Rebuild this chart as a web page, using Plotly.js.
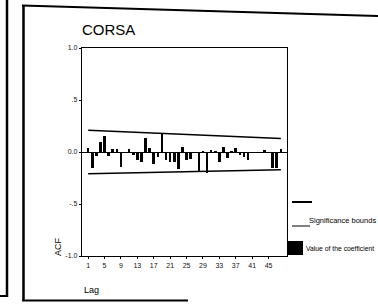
<!DOCTYPE html>
<html>
<head>
<meta charset="utf-8">
<script src="https://cdn.plot.ly/plotly-3.0.1.min.js"></script>
<style>
html,body{margin:0;padding:0;background:#fff;overflow:hidden;}
#wrap{position:relative;width:378px;height:304px;}
#chart{position:absolute;left:0;top:0;width:378px;height:304px;}
#frame{position:absolute;left:0;top:0;width:378px;height:304px;pointer-events:none;}
</style>
</head>
<body>
<div id="wrap">
<div id="chart"></div>
<svg id="frame" width="378" height="304" xmlns="http://www.w3.org/2000/svg">
  <line x1="7" y1="0" x2="7" y2="297" stroke="#000" stroke-width="2.5"/>
  <line x1="0" y1="296" x2="8" y2="296" stroke="#000" stroke-width="2"/>
  <line x1="23.5" y1="5" x2="23.5" y2="301" stroke="#000" stroke-width="2.5"/>
  <line x1="22" y1="5.5" x2="378" y2="16" stroke="#000" stroke-width="2"/>
  <line x1="22" y1="300.5" x2="188" y2="300.5" stroke="#000" stroke-width="2"/>
</svg>
</div>
<script>
// ---- data ----
var lags = [1,2,3,4,5,6,7,8,9,10,11,12,13,14,15,16,17,18,19,20,21,22,23,24,
            25,26,27,28,29,30,31,32,33,34,35,36,37,38,39,40,41,42,43,44,45,46,47,48];
var acfValues = [0.04,-0.15,-0.04,0.10,0.15,-0.04,0.03,0.03,-0.14,0.00,0.03,-0.03,
                 -0.08,-0.10,0.13,0.04,-0.12,-0.05,0.18,-0.08,-0.10,-0.10,-0.16,0.05,
                 -0.08,-0.07,0.00,-0.19,0.01,-0.20,0.02,0.01,-0.10,0.05,-0.06,0.01,
                 0.04,-0.03,-0.05,-0.08,-0.01,0.00,-0.01,0.02,-0.01,-0.15,-0.15,0.03];
var boundLags = [1, 48];
var upperBound = [0.21, 0.13];
var lowerBound = [-0.21, -0.17];
var xTickVals = [1,5,9,13,17,21,25,29,33,37,41,45];
var xTickText = ['1','5','9','13','17','21','25','29','33','37','41','45'];
var yTickVals = [1,0.5,0,-0.5,-1];
var yTickText = ['1.0','.5','0.0','-.5','-1.0'];
var titleText = 'CORSA';
var legendBounds = 'Significance bounds';
var legendCoef = 'Value of the coefficient';

// ---- geometry helpers (pixel -> paper) ----
var L = 82, R = 287, T = 48, B = 256, W = 378, H = 304;
function px(x){ return (x - L) / (R - L); }
function py(y){ return (B - y) / (B - T); }
var FONT = 'Liberation Sans, Arial, sans-serif';

var traces = [
  {type:'bar', x:lags, y:acfValues, width:0.62,
   marker:{color:'#000', line:{width:0}}, hoverinfo:'skip', showlegend:false},
  {type:'scatter', mode:'lines', x:boundLags, y:upperBound,
   line:{color:'#000', width:1.5}, hoverinfo:'skip', showlegend:false},
  {type:'scatter', mode:'lines', x:boundLags, y:lowerBound,
   line:{color:'#000', width:1.5}, hoverinfo:'skip', showlegend:false}
];

function line(x0,y0,x1,y1,w,c){
  return {type:'line', xref:'paper', yref:'paper', x0:px(x0), y0:py(y0), x1:px(x1), y1:py(y1),
          line:{color:c||'#000', width:w}};
}

var shapes = [
  line(292,202,312,202,2),
  line(292,226,310,226,1),
  {type:'rect', xref:'paper', yref:'paper', x0:px(287), x1:px(303), y0:py(255), y1:py(241),
   fillcolor:'#000', line:{width:0}}
];

var annotations = [
  {xref:'paper', yref:'paper', x:px(58), y:py(247), text:'ACF', textangle:-90,
   xanchor:'center', yanchor:'middle',
   showarrow:false, font:{family:FONT, size:9, color:'#000'}},
  {xref:'paper', yref:'paper', x:px(82), y:py(290), text:'Lag', xanchor:'left', yanchor:'middle',
   showarrow:false, font:{family:FONT, size:9, color:'#000'}},
  {xref:'paper', yref:'paper', x:px(307), y:py(220), text:legendBounds, xanchor:'left', yanchor:'middle',
   showarrow:false, font:{family:FONT, size:7.5, color:'#000'}},
  {xref:'paper', yref:'paper', x:px(304), y:py(248), text:legendCoef, xanchor:'left', yanchor:'middle',
   showarrow:false, font:{family:FONT, size:6.8, color:'#000'}}
];

var layout = {
  width:W, height:H,
  margin:{l:L, r:W-R, t:T, b:H-B, pad:0},
  paper_bgcolor:'rgba(0,0,0,0)', plot_bgcolor:'#fff',
  showlegend:false,
  bargap:0,
  title:{text:titleText, x:L/W, xref:'container', xanchor:'left',
         y:1-30/H, yref:'container', yanchor:'middle',
         font:{family:FONT, size:15, color:'#000'}},
  xaxis:{range:[-0.5,49.5], tickmode:'array', tickvals:xTickVals, ticktext:xTickText,
         showgrid:false, zeroline:false, showline:true, mirror:true,
         linecolor:'#000', linewidth:1.2, ticks:'outside', ticklen:2, tickcolor:'#000',
         tickfont:{family:FONT, size:7, color:'#111'}, fixedrange:true},
  yaxis:{range:[-1,1], tickmode:'array', tickvals:yTickVals, ticktext:yTickText,
         showgrid:false, zeroline:true, zerolinecolor:'#000', zerolinewidth:1,
         showline:true, mirror:true, linecolor:'#000', linewidth:1.2,
         ticks:'outside', ticklen:2, tickcolor:'#000',
         tickfont:{family:FONT, size:7, color:'#111'}, fixedrange:true},
  shapes:shapes,
  annotations:annotations
};

Plotly.newPlot('chart', traces, layout, {displayModeBar:false, staticPlot:true});
</script>
</body>
</html>
